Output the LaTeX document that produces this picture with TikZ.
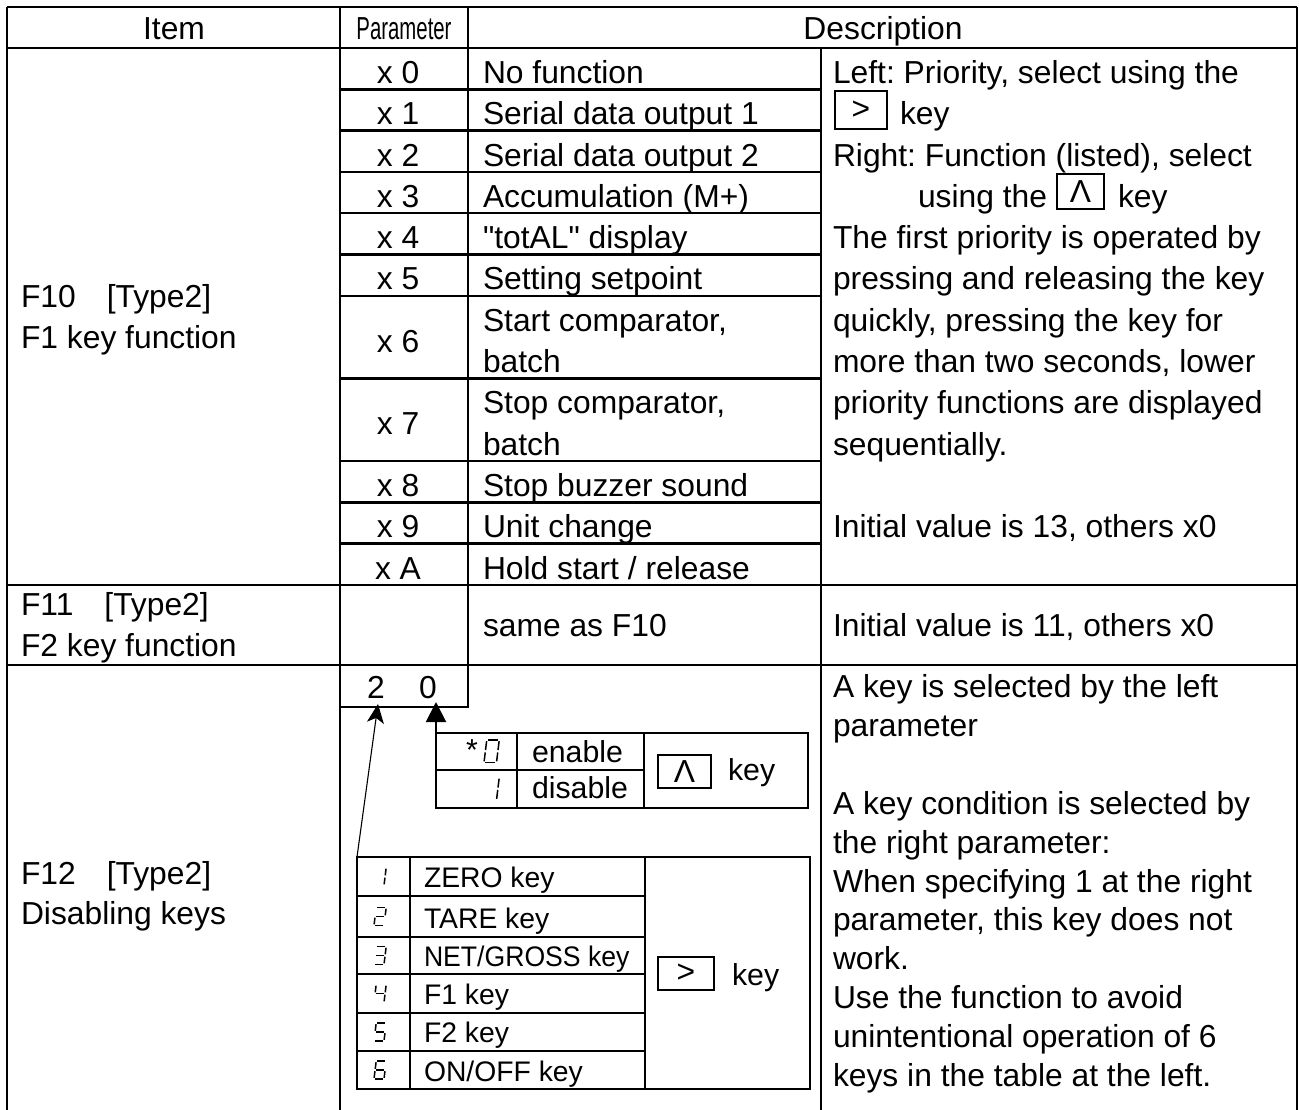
\documentclass[tikz,border=0pt]{standalone}
\usepackage{fontspec}
\usepackage{graphicx}
\setmainfont{Liberation Sans}
\usetikzlibrary{arrows.meta}
\frenchspacing
\newcommand\sgA{\draw[segline] (2.2,-18)--(12.2,-18);}
\newcommand\sgB{\draw[segline] (12.2,-18)--(11.1,-9);}
\newcommand\sgC{\draw[segline] (11.1,-9)--(10,0);}
\newcommand\sgD{\draw[segline] (0,0)--(10,0);}
\newcommand\sgE{\draw[segline] (1.1,-9)--(0,0);}
\newcommand\sgF{\draw[segline] (2.2,-18)--(1.1,-9);}
\newcommand\sgG{\draw[segline] (1.1,-9)--(11.1,-9);}
\tikzset{
  segline/.style={line width=1.5pt, shorten <=1.2pt, shorten >=1.2pt},
  dig0/.pic={\sgA\sgB\sgC\sgD\sgE\sgF},
  dig1/.pic={\sgB\sgC},
  dig2/.pic={\sgA\sgB\sgG\sgE\sgD},
  dig3/.pic={\sgA\sgB\sgG\sgC\sgD},
  dig4/.pic={\sgF\sgG\sgB\sgC},
  dig5/.pic={\sgA\sgF\sgG\sgC\sgD},
  dig6/.pic={\sgA\sgF\sgG\sgE\sgD\sgC},
}
\begin{document}
\begin{tikzpicture}[x=1pt,y=-1pt,
  every node/.style={inner sep=0pt, outer sep=0pt},
  txt/.style={font=\fontsize{31.8}{38}\selectfont, anchor=base west},
  ctxt/.style={font=\fontsize{31.8}{38}\selectfont, anchor=base},
  btxt/.style={font=\fontsize{30.3}{36}\selectfont, anchor=base west},
  ltxt/.style={font=\fontsize{28.3}{34}\selectfont, anchor=base west},
  tbl/.style={line width=2.6pt},
  boxln/.style={line width=2.2pt},
  keybox/.style={draw, line width=2pt, font=\fontsize{31.8}{38}\selectfont},
]
\useasboundingbox (0,0) rectangle (1299,1110);

% ---------- table grid ----------
\draw[tbl] (7,7) -- (1297,7);
\draw[tbl] (7,7) -- (7,1110);
\draw[tbl] (1297,7) -- (1297,1110);
\draw[tbl] (7,48) -- (1297,48);
\draw[tbl] (7,585) -- (1297,585);
\draw[tbl] (7,665) -- (1297,665);
\draw[tbl] (340,7) -- (340,1110);
\draw[tbl] (468,7) -- (468,707) -- (340,707);
\draw[tbl] (821,48) -- (821,1110);
\foreach \yy in {89.3,130.6,171.9,213.2,254.5,295.8,378.4,461,502.3,543.6}
  \draw[tbl] (340,\yy) -- (821,\yy);

% ---------- header ----------
\node[ctxt] (hItem) at (174,40) {Item};
\node[ctxt] (hPar) at (404,40) {\scalebox{0.64}[1]{Parameter}};
\node[ctxt] (hDesc) at (883,40) {Description};

% ---------- F10 ----------
\node[txt] (f10a) at (21,307.5) {F10\hspace*{31pt}[Type2]};
\node[txt] (f10b) at (21,348.8) {F1 key function};

\node[ctxt] (p0) at (398,83.5) {x 0};
\node[ctxt] (p1) at (398,124.8) {x 1};
\node[ctxt] (p2) at (398,166.1) {x 2};
\node[ctxt] (p3) at (398,207.4) {x 3};
\node[ctxt] (p4) at (398,248.7) {x 4};
\node[ctxt] (p5) at (398,290) {x 5};
\node[ctxt] (p6) at (398,352) {x 6};
\node[ctxt] (p7) at (398,434.5) {x 7};
\node[ctxt] (p8) at (398,496.5) {x 8};
\node[ctxt] (p9) at (398,537.8) {x 9};
\node[ctxt] (pA) at (398,579.1) {x A};

\node[txt] (m0) at (483,83.5) {No function};
\node[txt] (m1) at (483,124.8) {Serial data output 1};
\node[txt] (m2) at (483,166.1) {Serial data output 2};
\node[txt] (m3) at (483,207.4) {Accumulation (M+)};
\node[txt] (m4) at (483,248.7) {\textquotedbl totAL\textquotedbl{} display};
\node[txt] (m5) at (483,290) {Setting setpoint};
\node[txt] (m6a) at (483,331.3) {Start comparator,};
\node[txt] (m6b) at (483,372.6) {batch};
\node[txt] (m7a) at (483,413.9) {Stop comparator,};
\node[txt] (m7b) at (483,455.2) {batch};
\node[txt] (m8) at (483,496.5) {Stop buzzer sound};
\node[txt] (m9) at (483,537.8) {Unit change};
\node[txt] (mA) at (483,579.1) {Hold start / release};

\node[txt] (d1) at (833,83.5) {Left: Priority, select using the};
\node[keybox, minimum width=52pt, minimum height=38pt] (k1) at (861,110) {>};
\node[txt] (d2) at (900,124.8) {key};
\node[txt] (d3) at (833,166.1) {Right: Function (listed), select};
\node[txt] (d4) at (918,207.4) {using the};
\node[keybox, minimum width=47pt, minimum height=35pt] (k2) at (1080.5,191.5) {Λ};
\node[txt] (d5) at (1118,207.4) {key};
\node[txt] (d6) at (833,248.7) {The first priority is operated by};
\node[txt] (d7) at (833,290) {pressing and releasing the key};
\node[txt] (d8) at (833,331.3) {quickly, pressing the key for};
\node[txt] (d9) at (833,372.6) {more than two seconds, lower};
\node[txt] (d10) at (833,413.9) {priority functions are displayed};
\node[txt] (d11) at (833,455.2) {sequentially.};
\node[txt] (d12) at (833,537.8) {Initial value is 13, others x0};

% ---------- F11 ----------
\node[txt] (f11a) at (21,615.5) {F11\hspace*{31pt}[Type2]};
\node[txt] (f11b) at (21,656.5) {F2 key function};
\node[txt] (f11m) at (483,636) {same as F10};
\node[txt] (f11d) at (833,636) {Initial value is 11, others x0};

% ---------- F12 ----------
\node[txt] (f12a) at (21,884.5) {F12\hspace*{31pt}[Type2]};
\node[txt] (f12b) at (21,924.5) {Disabling keys};

\node[ctxt] (n2) at (376,698) {2};
\node[ctxt] (n0) at (428,698) {0};

\node[txt] (e1) at (833,697.5) {A key is selected by the left};
\node[txt] (e2) at (833,736.4) {parameter};
\node[txt] (e3) at (833,814.2) {A key condition is selected by};
\node[txt] (e4) at (833,853.1) {the right parameter:};
\node[txt] (e5) at (833,892) {When specifying 1 at the right};
\node[txt] (e6) at (833,930.9) {parameter, this key does not};
\node[txt] (e7) at (833,969.8) {work.};
\node[txt] (e8) at (833,1008.7) {Use the function to avoid};
\node[txt] (e9) at (833,1047.6) {unintentional operation of 6};
\node[txt] (e10) at (833,1086.5) {keys in the table at the left.};

% upper box (right parameter)
\node[draw, boxln, minimum width=372pt, minimum height=75pt, anchor=north west] (upbox) at (436,733) {};
\draw[boxln] (517,733) -- (517,808);
\draw[boxln] (644,733) -- (644,808);
\draw[boxln] (436,770) -- (644,770);
\node[btxt] (ast) at (466,760) {*};
\pic[scale=1.25] at (484,762.5) {dig0};
\pic[scale=1.25] at (484,800) {dig1};
\node[btxt] (uen) at (532,762) {enable};
\node[btxt] (udis) at (532,798) {disable};
\node[keybox, minimum width=53pt, minimum height=33pt] (k3) at (684.5,771.5) {Λ};
\node[btxt] (ukey) at (728,780) {key};

% lower box (left parameter)
\node[draw, boxln, minimum width=453pt, minimum height=232pt, anchor=north west] (lowbox) at (357,857) {};
\draw[boxln] (410,857) -- (410,1089);
\draw[boxln] (645,857) -- (645,1089);
\foreach \yy in {896,937,974,1013,1051}
  \draw[boxln] (357,\yy) -- (645,\yy);
\pic at (374,885.5) {dig1};
\pic at (374,925.5) {dig2};
\pic at (374,964.5) {dig3};
\pic at (374,1002.5) {dig4};
\pic at (374,1041) {dig5};
\pic at (374,1079) {dig6};
\node[ltxt] (l1) at (424,887) {ZERO key};
\node[ltxt] (l2) at (424,928) {TARE key};
\node[ltxt] (l3) at (424,966) {\scalebox{0.94}[1]{NET/GROSS key}};
\node[ltxt] (l4) at (424,1004) {F1 key};
\node[ltxt] (l5) at (424,1042) {F2 key};
\node[ltxt] (l6) at (424,1081) {ON/OFF key};
\node[keybox, minimum width=56pt, minimum height=33pt] (k4) at (686,973.5) {>};
\node[btxt] (lkey) at (732,985) {key};

% arrows to the parameter digits
\coordinate (tip2) at (378,704);
\coordinate (tip0) at (436,702);
\draw[line width=1.1pt, -{Stealth[length=19pt,width=17pt,inset=5pt]}] (lowbox.north west) -- (tip2);
\draw[line width=2pt, -{Triangle[length=20pt,width=20pt]}] (upbox.north west) -- (tip0);
\end{tikzpicture}
\end{document}
